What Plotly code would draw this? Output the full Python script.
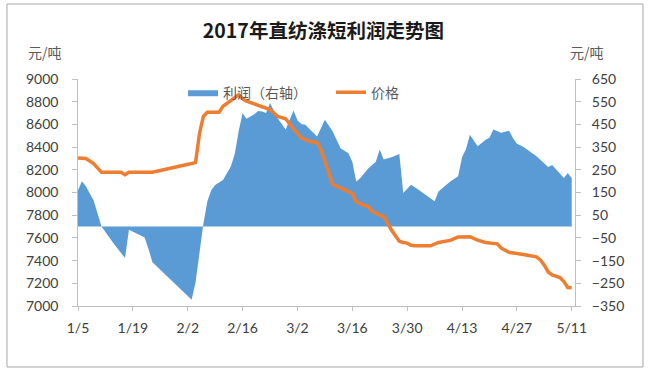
import plotly.graph_objects as go

# ---------------- data ----------------
profit_dates = [
    "2017-01-05", "2017-01-06", "2017-01-07", "2017-01-08", "2017-01-09", "2017-01-10",
    "2017-01-11", "2017-01-14", "2017-01-17", "2017-01-18", "2017-01-22", "2017-01-23",
    "2017-01-24", "2017-02-03", "2017-02-04", "2017-02-05", "2017-02-06", "2017-02-07",
    "2017-02-08", "2017-02-09", "2017-02-10", "2017-02-11", "2017-02-12", "2017-02-13",
    "2017-02-14", "2017-02-15", "2017-02-16", "2017-02-17", "2017-02-18", "2017-02-19",
    "2017-02-20", "2017-02-21", "2017-02-22", "2017-02-23", "2017-02-25", "2017-02-26",
    "2017-02-27", "2017-03-01", "2017-03-02", "2017-03-03", "2017-03-04", "2017-03-07",
    "2017-03-09", "2017-03-11", "2017-03-13", "2017-03-15", "2017-03-16", "2017-03-17",
    "2017-03-18", "2017-03-20", "2017-03-21", "2017-03-22", "2017-03-23", "2017-03-24",
    "2017-03-26", "2017-03-28", "2017-03-29", "2017-03-31", "2017-04-02", "2017-04-06",
    "2017-04-07", "2017-04-10", "2017-04-12", "2017-04-13", "2017-04-14", "2017-04-15",
    "2017-04-17", "2017-04-19", "2017-04-20", "2017-04-21", "2017-04-23", "2017-04-25",
    "2017-04-26", "2017-04-27", "2017-04-28", "2017-04-29", "2017-05-02", "2017-05-05",
    "2017-05-06", "2017-05-09", "2017-05-10", "2017-05-11",
]
profit = [
    160, 200, 178, 148, 115, 58,
    0, -73, -139, -14, -48, -100,
    -157, -323, -245, -117, 12, 110,
    160, 183, 193, 205, 235, 265,
    320, 420, 500, 475, 485, 495,
    509, 507, 500, 544, 476, 450,
    428, 511, 468, 452, 448, 397,
    470, 419, 345, 323, 286, 198,
    213, 255, 270, 285, 339, 295,
    305, 320, 148, 184, 161, 111,
    154, 198, 222, 305, 340, 404,
    354, 382, 391, 428, 413, 422,
    390, 365, 357, 347, 310, 262,
    271, 214, 236, 213,
]

price_dates = [
    "2017-01-05", "2017-01-07", "2017-01-09", "2017-01-10", "2017-01-11", "2017-01-16",
    "2017-01-17", "2017-01-18", "2017-01-24", "2017-02-03", "2017-02-04", "2017-02-05",
    "2017-02-06", "2017-02-07", "2017-02-10", "2017-02-11", "2017-02-12", "2017-02-14",
    "2017-02-15", "2017-02-16", "2017-02-17", "2017-02-19", "2017-02-22", "2017-02-23",
    "2017-02-25", "2017-02-27", "2017-03-01", "2017-03-03", "2017-03-05", "2017-03-07",
    "2017-03-08", "2017-03-09", "2017-03-11", "2017-03-13", "2017-03-15", "2017-03-16",
    "2017-03-17", "2017-03-19", "2017-03-20", "2017-03-21", "2017-03-23", "2017-03-24",
    "2017-03-26", "2017-03-28", "2017-03-29", "2017-03-30", "2017-03-31", "2017-04-01",
    "2017-04-05", "2017-04-07", "2017-04-10", "2017-04-12", "2017-04-15", "2017-04-17",
    "2017-04-19", "2017-04-22", "2017-04-23", "2017-04-25", "2017-04-29", "2017-05-02",
    "2017-05-03", "2017-05-04", "2017-05-05", "2017-05-06", "2017-05-08", "2017-05-09",
    "2017-05-10", "2017-05-11",
]
price = [
    8305, 8299, 8255, 8215, 8178, 8178,
    8157, 8178, 8178, 8255, 8265, 8520,
    8670, 8708, 8708, 8760, 8785, 8840,
    8860, 8825, 8805, 8780, 8745, 8731,
    8670, 8650, 8560, 8481, 8452, 8440,
    8380, 8276, 8070, 8040, 8010, 7990,
    7920, 7885, 7880, 7836, 7800, 7788,
    7670, 7570, 7560, 7554, 7535, 7530,
    7530, 7560, 7578, 7607, 7610, 7580,
    7560, 7548, 7510, 7474, 7451, 7433,
    7406, 7360, 7300, 7274, 7251, 7216,
    7163, 7160,
]

tick_dates = ["2017-01-05", "2017-01-19", "2017-02-02", "2017-02-16", "2017-03-02",
              "2017-03-16", "2017-03-30", "2017-04-13", "2017-04-27", "2017-05-11"]
tick_labels = ["1/5", "1/19", "2/2", "2/16", "3/2", "3/16", "3/30", "4/13", "4/27", "5/11"]

title_text = "2017年直纺涤短利润走势图"
unit_text = "元/吨"

# ---------------- figure ----------------
BLUE = "#5b9bd5"
ORANGE = "#ed7d31"
AXIS = "#bfbfbf"
TXT = "#404040"
FONT = "Lato, 'Noto Sans CJK SC', sans-serif"
CJK = "'Noto Sans CJK SC', sans-serif"

fig = go.Figure()
fig.add_trace(go.Scatter(
    x=profit_dates, y=profit, name="利润（右轴）", mode="lines",
    fill="tozeroy", fillcolor=BLUE, line=dict(width=0, color=BLUE),
    yaxis="y", hoverinfo="skip",
))
fig.add_trace(go.Scatter(
    x=price_dates, y=price, name="价格", mode="lines",
    line=dict(color=ORANGE, width=3.5), yaxis="y2", hoverinfo="skip",
))

fig.update_layout(
    width=650, height=374,
    margin=dict(l=78, r=75, t=79, b=68),
    paper_bgcolor="white", plot_bgcolor="white",
    font=dict(family=FONT, size=14, color=TXT),
    showlegend=True,
    legend=dict(orientation="h", x=0.2113, y=0.94, xanchor="left", yanchor="middle",
                font=dict(family=CJK, size=14, color="#595959"),
                bgcolor="rgba(0,0,0,0)", itemwidth=30, entrywidth=103,
                traceorder="normal"),
    title=dict(text="<b>" + title_text + "</b>", x=0.4975, xref="container", xanchor="center",
               y=1 - 31 / 374, yref="container", yanchor="middle",
               font=dict(family=CJK, size=19.5, color="#1a1a1a")),
    xaxis=dict(type="date", range=["2017-01-05", "2017-05-11 20:00"],
               tickmode="array", tickvals=tick_dates, ticktext=tick_labels,
               ticks="outside", ticklen=4, tickcolor=AXIS, showline=True, linecolor=AXIS,
               showgrid=False, zeroline=False, tickfont=dict(size=14, color=TXT),
               ticklabelstandoff=5),
    yaxis=dict(side="right", range=[-350, 650], tickmode="linear", tick0=-350, dtick=100,
               ticks="outside", ticklen=5, tickcolor=AXIS, showline=True, linecolor=AXIS,
               showgrid=False, zeroline=False, tickfont=dict(size=14, color=TXT),
               ticklabelstandoff=8),
    yaxis2=dict(overlaying="y", side="left", range=[7000, 9000], tickmode="linear",
                tick0=7000, dtick=200, ticks="outside", ticklen=5, tickcolor=AXIS,
                showline=True, linecolor=AXIS, showgrid=False, zeroline=False,
                tickfont=dict(size=14, color=TXT), ticksuffix="\u00a0\u00a0\u00a0"),
    annotations=[
        dict(text=unit_text, xref="paper", yref="paper", x=-0.067, y=1.12,
             xanchor="center", yanchor="middle", showarrow=False,
             font=dict(family=CJK, size=14, color="#595959")),
        dict(text=unit_text, xref="paper", yref="paper", x=1.024, y=1.12,
             xanchor="center", yanchor="middle", showarrow=False,
             font=dict(family=CJK, size=14, color="#595959")),
    ],
    shapes=[
        dict(type="rect", xref="paper", yref="paper", x0=-0.1429, x1=1.1368,
             y0=-0.2687, y1=1.3304, line=dict(color="#a6a6a6", width=1),
             fillcolor="rgba(0,0,0,0)", layer="below"),
    ],
)

fig.write_html("out.html", config={"displayModeBar": False},
               post_script="document.body.style.margin='0px';")
